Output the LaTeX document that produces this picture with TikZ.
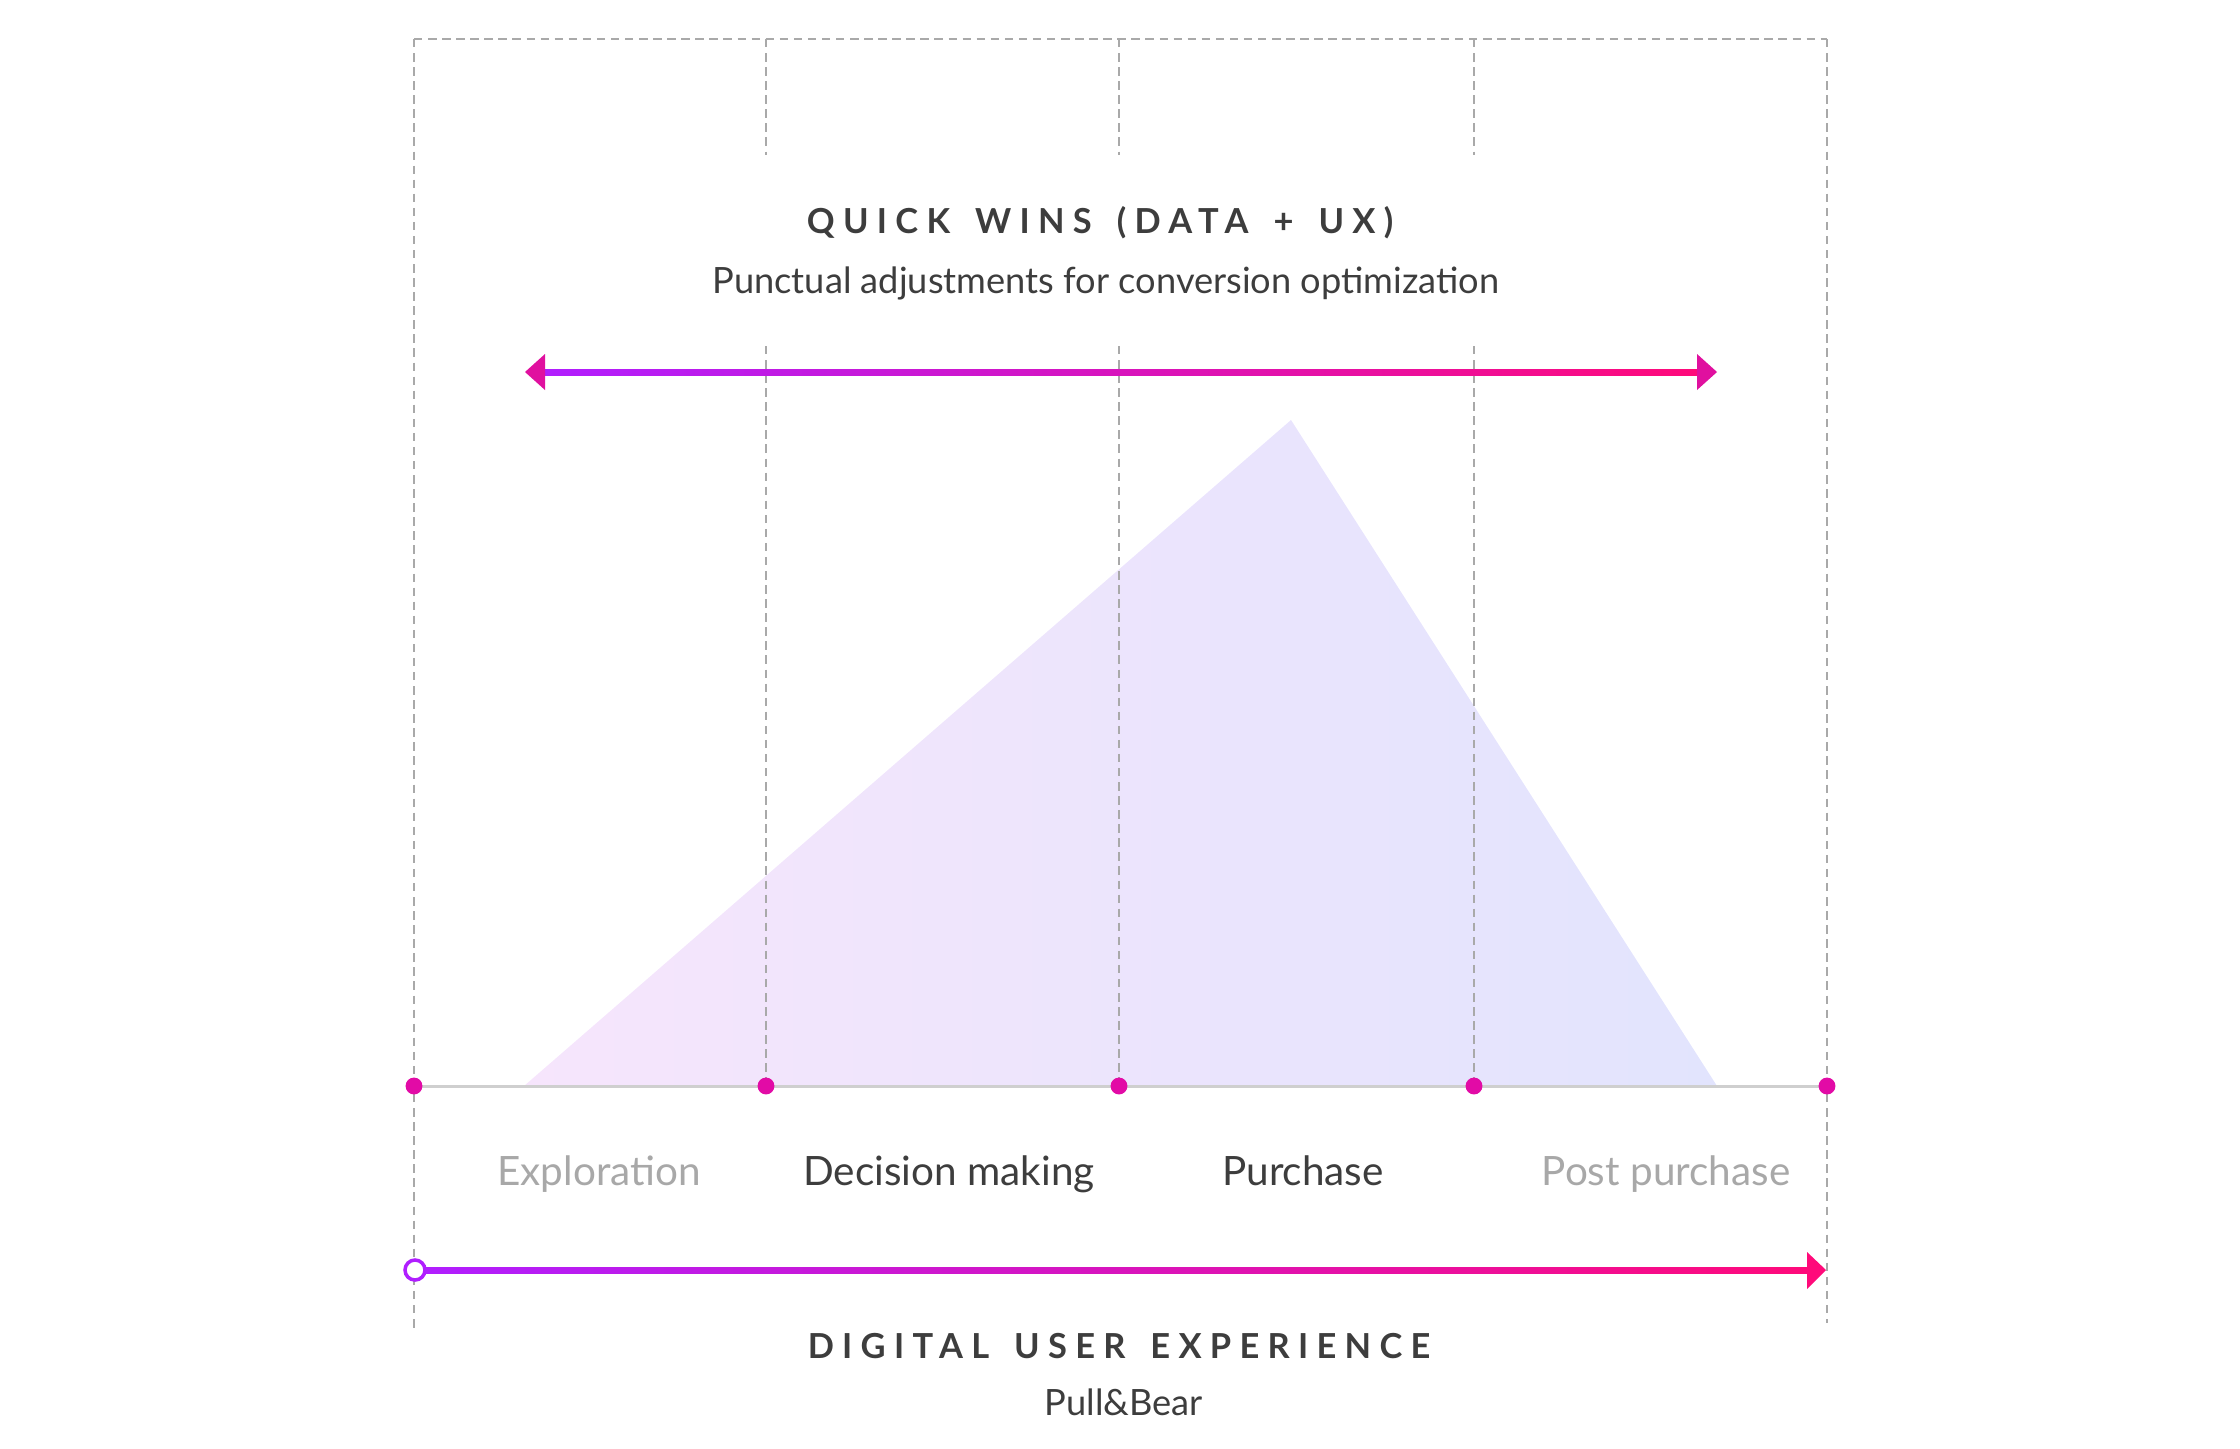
\documentclass[tikz,border=0pt]{standalone}
\usepackage{fontspec}
\setmainfont{Lato}
\newfontfamily\trackedfont[LetterSpace=24, WordSpace=1.5]{Lato}
\usepackage{xcolor}
\definecolor{inkgray}{HTML}{3D3D3D}
\definecolor{fadegray}{HTML}{A8A8A8}
\definecolor{guidegray}{HTML}{A9A9A9}
\definecolor{basegray}{HTML}{CFCFCF}
\definecolor{dotpink}{HTML}{E20BA6}
\definecolor{arrowpurple}{HTML}{B01EFF}
\definecolor{arrowpink}{HTML}{FF0A7A}
\definecolor{headpink}{HTML}{E0109F}
\definecolor{tripink}{HTML}{F6E5FC}
\definecolor{triblue}{HTML}{E2E4FD}
\usetikzlibrary{positioning}
\tikzset{
  guide/.style     ={draw=guidegray, line width=0.55pt, dash pattern=on 2.4pt off 1.6pt},
  baseline/.style  ={draw=basegray, line width=0.85pt},
  stagedot/.style  ={circle, fill=dotpink, inner sep=0pt, minimum size=4.8pt},
  headline/.style  ={font=\trackedfont\bfseries\fontsize{9.8}{11}\selectfont, text=inkgray, anchor=base},
  subline/.style   ={font=\fontsize{10.3}{12}\selectfont, text=inkgray, anchor=base},
  stage/.style     ={font=\fontsize{11.5}{13}\selectfont, text=inkgray, anchor=base},
  stagefaint/.style={stage, text=fadegray},
  gradbar/.style   ={left color=arrowpurple, right color=arrowpink},
}

\begin{document}
\begin{tikzpicture}[x=0.01cm, y=-0.01cm]
  \useasboundingbox (0,0) rectangle (2240,1448);
  % peak of the journey
  \shade[left color=tripink, right color=triblue] (524,1086) -- (1291,420) -- (1717,1086) -- cycle;
  % frame and stage guides
  \draw[guide] (414,39) -- (1827,39);
  \draw[guide] (414,39) -- (414,1330);
  \draw[guide] (1827,39) -- (1827,1323);
  \foreach \x in {766,1119,1474}{
    \draw[guide] (\x,39) -- (\x,155);
    \draw[guide] (\x,346) -- (\x,1086);
  }
  \node[headline] (qwtitle) at (1100,233) {QUICK WINS (DATA + UX)};
  \node[subline] (qwsub) at (1106,293) {Punctual adjustments for conversion optimization};
  % quick wins range
  \coordinate (qwl) at (525,372);
  \coordinate (qwr) at (1717,372);
  \shade[gradbar] (540,369) rectangle (1700,375);
  \fill[headpink] (qwl) -- (545,354) -- (545,390) -- cycle;
  \fill[headpink] (qwr) -- (1697,354) -- (1697,390) -- cycle;
  % stages
  \draw[baseline] (414,1086) -- (1827,1086);
  \foreach \x [count=\i] in {414,766,1119,1474,1827}
    \node[stagedot] (d\i) at (\x,1086) {};
  \node[stagefaint] (explore) at (599,1185) {Exploration};
  \node[stage] (decide) at (949,1185) {Decision making};
  \node[stage] (buy) at (1303,1185) {Purchase};
  \node[stagefaint] (after) at (1666,1185) {Post purchase};
  % digital user experience axis
  \coordinate (uxs) at (415,1270);
  \coordinate (uxe) at (1826,1270);
  \shade[gradbar] (420,1267) rectangle (1810,1273);
  \fill[arrowpink] (uxe) -- (1807,1252) -- (1807,1289) -- cycle;
  \draw[arrowpurple, line width=1pt, fill=white] (uxs) circle[radius=0.1cm];
  \node[headline] (uxtitle) at (1119,1358) {DIGITAL USER EXPERIENCE};
  \node[subline] (brand) at (1124,1415) {Pull\&Bear};
\end{tikzpicture}
\end{document}
